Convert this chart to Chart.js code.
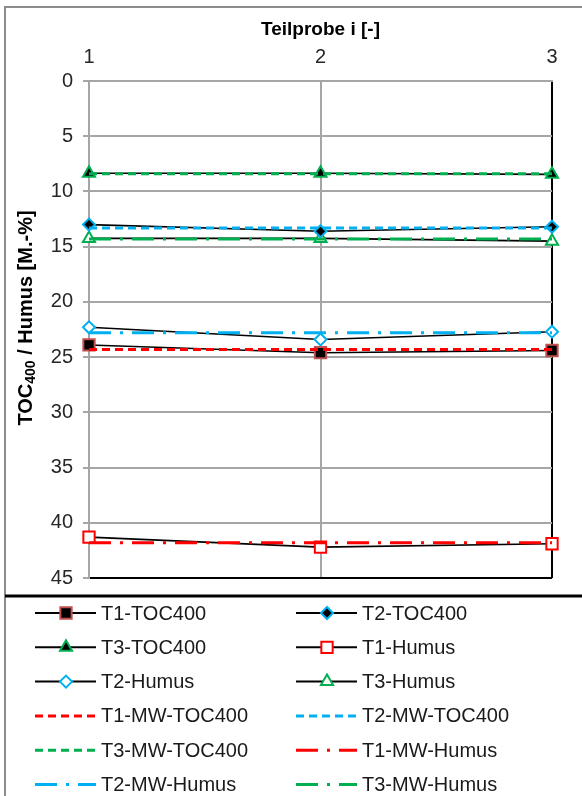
<!DOCTYPE html>
<html>
<head>
<meta charset="utf-8">
<script src="https://cdn.jsdelivr.net/npm/chart.js@4.4.1/dist/chart.umd.min.js"></script>
<style>
  html, body { margin: 0; padding: 0; background: #fff; }
</style>
</head>
<body>
<canvas id="myChart" width="582" height="796"></canvas>
<script>
// values
const categories = ['1', '2', '3'];
const t1Toc = [23.9, 24.6, 24.4];
const t2Toc = [13.0, 13.6, 13.2];
const t3Toc = [8.35, 8.35, 8.45];
const t1Humus = [41.3, 42.2, 41.9];
const t2Humus = [22.3, 23.4, 22.7];
const t3Humus = [14.25, 14.25, 14.5];
const t1MwToc = [24.3, 24.3, 24.3];
const t2MwToc = [13.3, 13.3, 13.3];
const t3MwToc = [8.4, 8.4, 8.4];
const t1MwHumus = [41.8, 41.8, 41.8];
const t2MwHumus = [22.8, 22.8, 22.8];
const t3MwHumus = [14.3, 14.3, 14.3];

const red = '#ff0000', blue = '#00b0f0', green = '#00b050';
const dash = [8, 5];
const dashDot = [22, 9, 3, 9];
const fontFam = '"Liberation Sans", Arial, sans-serif';

function markerSeries(label, data, style, radius, fill, edge) {
  return {
    label: label, data: data, order: 1,
    borderColor: '#000', borderWidth: 1.6,
    pointStyle: style, pointRadius: radius, pointHoverRadius: radius,
    pointBackgroundColor: fill, pointBorderColor: edge, pointBorderWidth: 2
  };
}
function mwSeries(label, data, color, pattern) {
  return {
    label: label, data: data, order: 0,
    borderColor: color, borderWidth: 3, borderDash: pattern,
    pointRadius: 0
  };
}

const datasets = [
  markerSeries('T1-TOC400', t1Toc, 'rect', 8, '#000', '#c0504d'),
  markerSeries('T2-TOC400', t2Toc, 'rectRot', 6, '#000', blue),
  markerSeries('T3-TOC400', t3Toc, 'triangle', 7, '#000', green),
  markerSeries('T1-Humus', t1Humus, 'rect', 8, '#fff', red),
  markerSeries('T2-Humus', t2Humus, 'rectRot', 6, '#fff', blue),
  markerSeries('T3-Humus', t3Humus, 'triangle', 7, '#fff', green),
  mwSeries('T1-MW-TOC400', t1MwToc, red, dash),
  mwSeries('T2-MW-TOC400', t2MwToc, blue, dash),
  mwSeries('T3-MW-TOC400', t3MwToc, green, dash),
  mwSeries('T1-MW-Humus', t1MwHumus, red, dashDot),
  mwSeries('T2-MW-Humus', t2MwHumus, blue, dashDot),
  mwSeries('T3-MW-Humus', t3MwHumus, green, dashDot)
];

function drawMarker(ctx, ds, x, y) {
  const r = ds.pointRadius;
  ctx.save();
  ctx.setLineDash([]);
  ctx.fillStyle = ds.pointBackgroundColor;
  ctx.strokeStyle = ds.pointBorderColor;
  ctx.lineWidth = ds.pointBorderWidth;
  ctx.beginPath();
  if (ds.pointStyle === 'rect') {
    const s = r * Math.SQRT1_2;
    ctx.rect(x - s, y - s, 2 * s, 2 * s);
  } else if (ds.pointStyle === 'rectRot') {
    ctx.moveTo(x, y - r); ctx.lineTo(x + r, y); ctx.lineTo(x, y + r); ctx.lineTo(x - r, y);
    ctx.closePath();
  } else {
    const h = r * 1.5, w = r * Math.sqrt(3);
    ctx.moveTo(x, y - r); ctx.lineTo(x + w / 2, y + h - r); ctx.lineTo(x - w / 2, y + h - r);
    ctx.closePath();
  }
  ctx.fill();
  ctx.stroke();
  ctx.restore();
}

const extras = {
  id: 'extras',
  beforeDraw(chart) {
    const ctx = chart.ctx;
    ctx.save();
    ctx.fillStyle = '#fff';
    ctx.fillRect(0, 0, chart.width, chart.height);
    ctx.restore();
  },
  afterDraw(chart) {
    const ctx = chart.ctx;
    ctx.save();
    // outer frame
    ctx.strokeStyle = '#8c8c8c';
    ctx.lineWidth = 2;
    ctx.strokeRect(5, 7, 620, 820);
    // separator above the legend
    ctx.strokeStyle = '#000';
    ctx.lineWidth = 3;
    ctx.beginPath(); ctx.moveTo(5, 596); ctx.lineTo(582, 596); ctx.stroke();

    // y axis title with subscript
    ctx.translate(26, 318);
    ctx.rotate(-Math.PI / 2);
    ctx.fillStyle = '#000';
    ctx.textBaseline = 'middle';
    const big = 'bold 20px ' + fontFam;
    const small = 'bold 14px ' + fontFam;
    const parts = [['TOC', big, 0], ['400', small, 5], [' / Humus [M.-%]', big, 0]];
    let total = 0;
    parts.forEach(p => { ctx.font = p[1]; total += ctx.measureText(p[0]).width; });
    let x = -total / 2;
    parts.forEach(p => {
      ctx.font = p[1];
      ctx.textAlign = 'left';
      ctx.fillText(p[0], x, p[2]);
      x += ctx.measureText(p[0]).width;
    });
    ctx.restore();

    // legend, two columns
    ctx.save();
    ctx.font = '20px ' + fontFam;
    ctx.textBaseline = 'middle';
    ctx.textAlign = 'left';
    chart.data.datasets.forEach((ds, i) => {
      const col = i % 2, row = Math.floor(i / 2);
      const x0 = col ? 296 : 35;
      const y = 613 + row * 34.3;
      ctx.strokeStyle = ds.borderColor;
      ctx.lineWidth = ds.order === 0 ? 3 : 2;
      ctx.setLineDash(ds.borderDash || []);
      ctx.beginPath(); ctx.moveTo(x0, y); ctx.lineTo(x0 + 61, y); ctx.stroke();
      if (ds.pointRadius) drawMarker(ctx, ds, x0 + 31, y);
      ctx.fillStyle = '#1a1a1a';
      ctx.fillText(ds.label, x0 + 66, y + 1);
    });
    ctx.restore();
  }
};

const gridGrey = '#a6a6a6';
const ctx = document.getElementById('myChart').getContext('2d');
new Chart(ctx, {
  type: 'line',
  data: { labels: categories, datasets: datasets },
  plugins: [extras],
  options: {
    responsive: false,
    animation: false,
    layout: { padding: { left: 0, top: 10, right: 30, bottom: 218 } },
    plugins: { legend: { display: false }, tooltip: { enabled: false } },
    scales: {
      x: {
        position: 'top',
        offset: false,
        afterFit(s) { s.height = 71; },
        title: {
          display: true, text: 'Teilprobe i [-]', color: '#000',
          font: { family: fontFam, size: 19, weight: 'bold' },
          padding: { top: 8, bottom: 0 }
        },
        ticks: {
          color: '#262626', padding: 12,
          font: { family: fontFam, size: 20 }
        },
        grid: {
          drawTicks: false, lineWidth: 2,
          color: c => c.index === 2 ? '#000' : gridGrey
        },
        border: { color: gridGrey, width: 2 }
      },
      y: {
        reverse: true, min: 0, max: 45,
        afterFit(s) { s.width = 89; },
        ticks: {
          stepSize: 5, color: '#262626', padding: 10,
          font: { family: fontFam, size: 20 }
        },
        grid: {
          lineWidth: 2, tickLength: 6, tickColor: gridGrey,
          color: c => c.tick && c.tick.value === 45 ? '#000' : gridGrey
        },
        border: { color: gridGrey, width: 2 }
      }
    }
  }
});
</script>
</body>
</html>
